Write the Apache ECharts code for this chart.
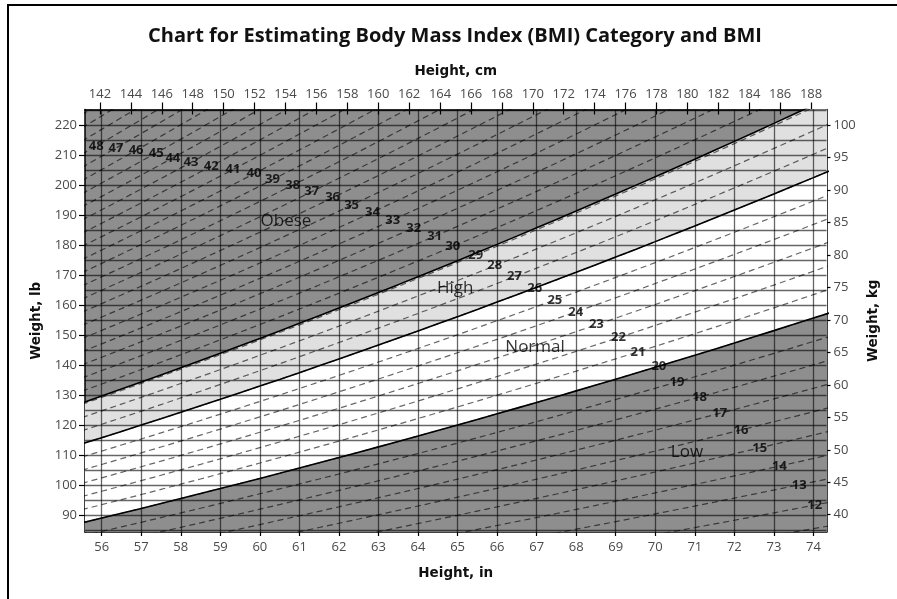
<!DOCTYPE html>
<html><head><meta charset="utf-8">
<script src="https://cdn.jsdelivr.net/npm/echarts@6/dist/echarts.min.js"></script>
<style>html,body{margin:0;padding:0;background:#fff}#c{width:897px;height:599px}</style>
</head><body><div id="c"></div>
<script>
// ---------- data ----------
const heightTicksIn = [56,57,58,59,60,61,62,63,64,65,66,67,68,69,70,71,72,73,74];
const heightHalfTicksIn = [56.5,57.5,58.5,59.5,60.5,61.5,62.5,63.5,64.5,65.5,66.5,67.5,68.5,69.5,70.5,71.5,72.5,73.5];
const heightTicksCm = [142,144,146,148,150,152,154,156,158,160,162,164,166,168,170,172,174,176,178,180,182,184,186,188];
const weightTicksLb = [90,100,110,120,130,140,150,160,170,180,190,200,210,220];
const weightTicksKg = [40,45,50,55,60,65,70,75,80,85,90,95,100];
const gridLinesLb = [85,90,95,100,105,110,115,120,125,130,135,140,145,150,155,160,165,170,175,180,185,190,195,200,205,210,215,220,225];
const gridLinesIn = [56,57,58,59,60,61,62,63,64,65,66,67,68,69,70,71,72,73,74];
const curveHeights = [55.5,56,56.5,57,57.5,58,58.5,59,59.5,60,60.5,61,61.5,62,62.5,63,63.5,64,64.5,65,65.5,66,66.5,67,67.5,68,68.5,69,69.5,70,70.5,71,71.5,72,72.5,73,73.5,74,74.5];
const bmiDashedLines = [11,12,13,14,15,16,17,18,19,20,21,22,23,24,25,26,27,28,29,30,31,32,33,34,35,36,37,38,39,40,41,42,43,44,45,46,47,48,49,50,51];
const categoryBounds = [20, 26, 29.1]; // Low|Normal, Normal|High, High|Obese
const bmiLabelValues  = [48,47,46,45,44,43,42,41,40,39,38,37,36,35,34,33,32,31,30,29,28,27,26,25,24,23,22,21,20,19,18,17,16,15,14,13,12];
const bmiLabelHeights = [55.86,56.36,56.87,57.38,57.80,58.26,58.77,59.32,59.85,60.32,60.83,61.31,61.84,62.32,62.85,63.36,63.89,64.42,64.88,65.46,65.94,66.44,66.95,67.46,67.99,68.51,69.07,69.56,70.09,70.55,71.12,71.63,72.17,72.64,73.14,73.64,74.03];
const categoryNames = ['Obese','High','Normal','Low'];
const categoryLabelHeights = [60.66, 64.94, 66.96, 70.80];
const categoryLabelWeights = [187.9, 165.7, 146.0, 111.1];

// ---------- styling ----------
const DARK = '#8e8e8e', LIGHT = '#e0e0e0';
const GRIDC = 'rgba(0,0,0,0.6)';
const tickFont = {color:'#4a4a4a', fontSize:13, fontFamily:'Open Sans'};
const nameFont = {color:'#111', fontSize:13.5, fontWeight:'bold', fontFamily:'DejaVu Sans'};

const lbOf = (bmi, h) => bmi * h * h / 703;
const curve = bmi => curveHeights.map(h => [h, lbOf(bmi, h)]);

const series = [];
[[categoryBounds[2], LIGHT], [categoryBounds[1], '#ffffff'], [categoryBounds[0], DARK]].forEach(([b, c]) => {
  series.push({type:'line', data:curve(b), symbol:'none', silent:true, z:1,
    lineStyle:{width:0}, areaStyle:{color:c, opacity:1, origin:'start'}});
});
series.push({type:'line', data:[], silent:true, z:3,
  markLine:{silent:true, symbol:['none','none'], label:{show:false}, animation:false,
    lineStyle:{color:GRIDC, width:1.3, type:'solid'},
    emphasis:{disabled:true},
    data:[...gridLinesLb.map(v=>({yAxis:v})), ...gridLinesIn.map(v=>({xAxis:v}))]}});
bmiDashedLines.forEach(b => {
  series.push({type:'line', data:curve(b), symbol:'none', silent:true, z:4,
    lineStyle:{color:'rgba(0,0,0,0.6)', width:1.2, type:[6,4]}});
});
categoryBounds.forEach(b => {
  series.push({type:'line', data:curve(b), symbol:'none', silent:true, z:5,
    lineStyle:{color:'#000', width:1.6}});
});
series.push({type:'scatter', silent:true, z:10, symbolSize:1, itemStyle:{color:'rgba(0,0,0,0)'},
  data: bmiLabelValues.map((b,i)=>[bmiLabelHeights[i], lbOf(b, bmiLabelHeights[i]), b]),
  label:{show:true, position:'inside', formatter:p=>String(p.value[2]), color:'#000', fontSize:13, fontWeight:'bold', fontFamily:'Open Sans'}});
series.push({type:'scatter', silent:true, z:10, symbolSize:1, itemStyle:{color:'rgba(0,0,0,0)'},
  data: categoryNames.map((n,i)=>({value:[categoryLabelHeights[i], categoryLabelWeights[i]], name:n})),
  label:{show:true, position:'inside', formatter:p=>p.name, color:'#000', fontSize:17, fontFamily:'Open Sans'}});

const axisLineBlack = {show:true, lineStyle:{color:'#000', width:1.5}};
const option = {
  animation:false,
  grid:{left:85, right:70.5, top:109.5, bottom:67, show:true, backgroundColor:DARK, borderWidth:0},
  xAxis:[
    {type:'value', position:'bottom', min:55.578, max:74.33, axisLine:axisLineBlack,
     axisTick:{show:true, customValues:heightTicksIn, length:4, lineStyle:{color:'#000', width:1.2}},
     axisLabel:{customValues:heightTicksIn, margin:9, ...tickFont}, splitLine:{show:false},
     name:'Height, in', nameLocation:'middle', nameGap:34, nameTextStyle:nameFont},
    {type:'value', position:'top', min:141.03, max:189.0, axisLine:axisLineBlack,
     axisTick:{show:true, customValues:heightTicksCm, length:7, lineStyle:{color:'#000', width:1.2}},
     axisLabel:{customValues:heightTicksCm, margin:9, ...tickFont}, splitLine:{show:false},
     name:'Height, cm', nameLocation:'middle', nameGap:31, nameTextStyle:nameFont},
    {type:'value', position:'top', min:141.03, max:189.0, axisLine:{show:false},
     axisTick:{show:true, inside:true, customValues:heightTicksCm, length:5, lineStyle:{color:'#000', width:1.2}},
     axisLabel:{show:false}, splitLine:{show:false}},
    {type:'value', position:'bottom', min:55.578, max:74.33, axisLine:{show:false},
     axisTick:{show:true, inside:true, customValues:heightHalfTicksIn, length:5, lineStyle:{color:'#000', width:1.2}},
     axisLabel:{show:false}, splitLine:{show:false}}
  ],
  yAxis:[
    {type:'value', position:'left', min:84.58, max:225.2, axisLine:axisLineBlack,
     axisTick:{show:true, customValues:weightTicksLb, length:6, lineStyle:{color:'#000', width:1.2}},
     axisLabel:{customValues:weightTicksLb, margin:8, ...tickFont}, splitLine:{show:false},
     name:'Weight, lb', nameLocation:'middle', nameRotate:90, nameGap:33, nameTextStyle:nameFont},
    {type:'value', position:'right', min:37.34, max:102.42, axisLine:axisLineBlack,
     axisTick:{show:true, customValues:weightTicksKg, length:4, lineStyle:{color:'#000', width:1.2}},
     axisLabel:{customValues:weightTicksKg, margin:7, ...tickFont}, splitLine:{show:false},
     name:'Weight, kg', nameLocation:'middle', nameRotate:90, nameGap:40, nameTextStyle:nameFont}
  ],
  series: series,
  graphic:[
    {type:'rect', shape:{x:8, y:5, width:900, height:600}, style:{fill:'none', stroke:'#000', lineWidth:2}, silent:true},
    {type:'text', x:455, y:36, silent:true, style:{text:'Chart for Estimating Body Mass Index (BMI) Category and BMI',
      align:'center', verticalAlign:'middle', font:'bold 20px "Open Sans"', fill:'#111'}}
  ]
};
const chart = echarts.init(document.getElementById('c'), null, {renderer:'canvas'});
chart.setOption(option);
</script></body></html>
